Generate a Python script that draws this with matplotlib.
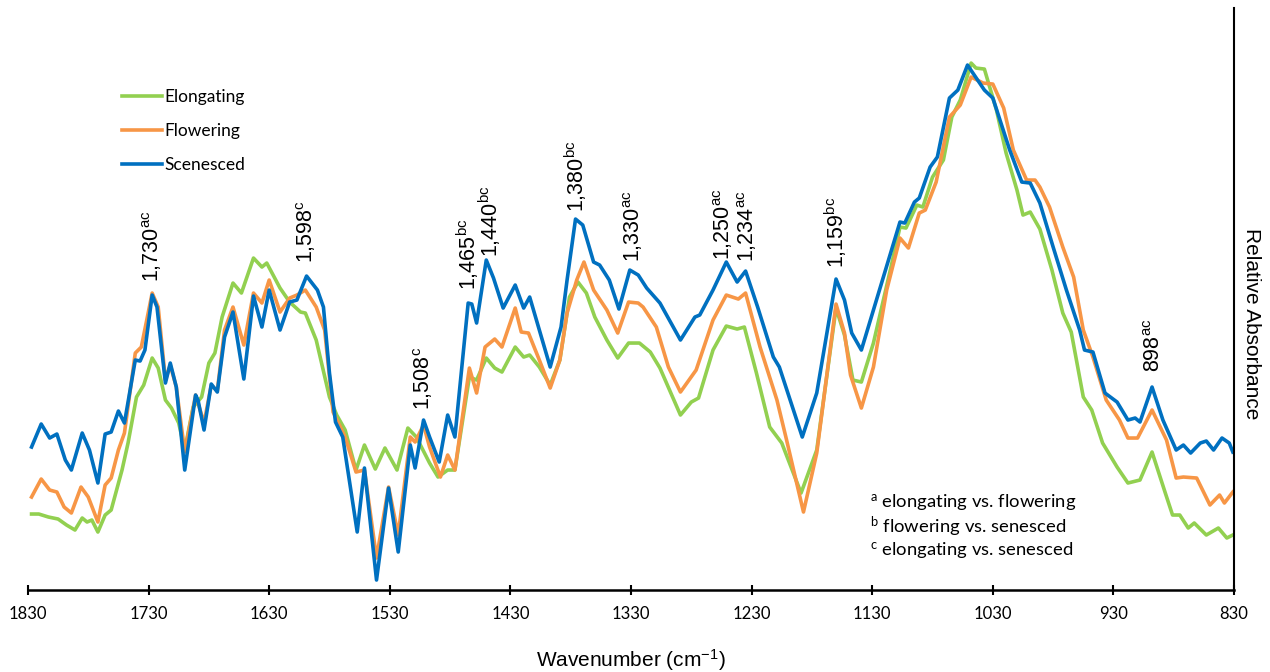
import numpy as np
import matplotlib
matplotlib.use("Agg")
import matplotlib.pyplot as plt

plt.rcParams['font.family'] = ['Lato', 'DejaVu Sans']
plt.rcParams['mathtext.default'] = 'regular'

# spectra (wavenumber in cm-1, relative absorbance)
wn_scen = [1827, 1819, 1812, 1806, 1799, 1794, 1785, 1779, 1772, 1766, 1761, 1755, 1750, 1741,
           1737, 1733, 1727, 1723, 1716, 1712, 1707, 1700, 1691, 1689, 1684, 1678, 1673, 1667,
           1660, 1651, 1643, 1636, 1630, 1621, 1613, 1607, 1599, 1590, 1585, 1580, 1575, 1569,
           1557, 1551, 1541, 1531, 1523, 1513, 1509, 1502, 1497, 1489, 1482, 1476, 1465, 1462,
           1458, 1450, 1444, 1436, 1426, 1419, 1414, 1406, 1397, 1388, 1383, 1376, 1370, 1361,
           1356, 1348, 1340, 1331, 1324, 1317, 1306, 1289, 1277, 1273, 1262, 1251, 1242, 1235,
           1225, 1212, 1207, 1188, 1176, 1160, 1153, 1147, 1139, 1129, 1107, 1103, 1095, 1091,
           1082, 1076, 1066, 1059, 1051, 1037, 1030, 1016, 1006, 999, 991, 980, 969, 958, 954,
           947, 937, 927, 918, 912, 908, 898, 889, 878, 872, 866, 858, 853, 847, 840, 834, 831]
ab_scen = [0.143, 0.166, 0.152, 0.156, 0.130, 0.120, 0.157, 0.140, 0.107, 0.156, 0.158, 0.179,
           0.167, 0.230, 0.229, 0.240, 0.295, 0.283, 0.207, 0.227, 0.203, 0.120, 0.195, 0.190,
           0.160, 0.206, 0.198, 0.253, 0.278, 0.211, 0.294, 0.263, 0.300, 0.260, 0.288, 0.290,
           0.314, 0.300, 0.283, 0.217, 0.168, 0.153, 0.058, 0.122, 0.010, 0.102, 0.038, 0.145,
           0.122, 0.170, 0.153, 0.128, 0.175, 0.153, 0.287, 0.286, 0.267, 0.330, 0.312, 0.282,
           0.305, 0.282, 0.293, 0.260, 0.223, 0.263, 0.310, 0.371, 0.365, 0.328, 0.325, 0.310,
           0.281, 0.320, 0.315, 0.302, 0.287, 0.250, 0.273, 0.275, 0.300, 0.328, 0.308, 0.319,
           0.283, 0.233, 0.223, 0.153, 0.197, 0.311, 0.290, 0.257, 0.240, 0.280, 0.368, 0.367,
           0.388, 0.392, 0.423, 0.433, 0.492, 0.500, 0.525, 0.500, 0.492, 0.440, 0.408, 0.407,
           0.387, 0.343, 0.300, 0.260, 0.240, 0.238, 0.197, 0.188, 0.170, 0.172, 0.168, 0.203,
           0.170, 0.140, 0.145, 0.137, 0.147, 0.149, 0.140, 0.152, 0.147, 0.138]

wn_flow = [1827, 1819, 1812, 1806, 1800, 1794, 1786, 1780, 1772, 1766, 1761, 1755, 1750, 1741,
           1736, 1727, 1722, 1716, 1712, 1707, 1700, 1691, 1684, 1678, 1673, 1667, 1660, 1651,
           1643, 1636, 1630, 1621, 1613, 1607, 1600, 1591, 1584, 1577, 1567, 1558, 1551, 1541,
           1531, 1523, 1513, 1509, 1502, 1497, 1488, 1482, 1476, 1464, 1458, 1451, 1443, 1437,
           1426, 1421, 1415, 1406, 1397, 1389, 1383, 1375, 1369, 1361, 1350, 1341, 1332, 1324,
           1320, 1309, 1299, 1289, 1276, 1262, 1251, 1241, 1235, 1223, 1209, 1201, 1187, 1176,
           1160, 1153, 1148, 1139, 1129, 1118, 1107, 1100, 1091, 1086, 1077, 1066, 1057, 1048,
           1038, 1030, 1021, 1013, 1002, 995, 991, 983, 972, 963, 955, 947, 936, 925, 918, 910,
           898, 886, 878, 872, 861, 850, 842, 838, 831]
ab_flow = [0.093, 0.111, 0.100, 0.098, 0.083, 0.077, 0.103, 0.093, 0.068, 0.105, 0.112, 0.140,
           0.157, 0.237, 0.243, 0.297, 0.283, 0.210, 0.225, 0.203, 0.138, 0.195, 0.167, 0.205,
           0.199, 0.260, 0.283, 0.245, 0.297, 0.287, 0.310, 0.278, 0.292, 0.295, 0.300, 0.283,
           0.260, 0.178, 0.153, 0.118, 0.120, 0.032, 0.103, 0.055, 0.153, 0.148, 0.165, 0.143,
           0.113, 0.135, 0.120, 0.222, 0.197, 0.243, 0.251, 0.243, 0.282, 0.258, 0.257, 0.230,
           0.202, 0.230, 0.277, 0.310, 0.328, 0.300, 0.280, 0.257, 0.288, 0.287, 0.283, 0.263,
           0.223, 0.198, 0.220, 0.270, 0.295, 0.291, 0.297, 0.243, 0.190, 0.150, 0.078, 0.137,
           0.286, 0.257, 0.215, 0.182, 0.223, 0.300, 0.352, 0.342, 0.377, 0.380, 0.408, 0.473,
           0.485, 0.513, 0.507, 0.506, 0.482, 0.440, 0.410, 0.410, 0.403, 0.383, 0.343, 0.313,
           0.260, 0.233, 0.190, 0.170, 0.152, 0.152, 0.180, 0.150, 0.112, 0.113, 0.112, 0.085,
           0.095, 0.087, 0.098]

wn_elong = [1827, 1821, 1813, 1805, 1798, 1791, 1785, 1781, 1777, 1772, 1766, 1761, 1752, 1747,
            1740, 1734, 1727, 1722, 1716, 1711, 1705, 1700, 1693, 1686, 1680, 1675, 1669, 1660,
            1653, 1643, 1636, 1632, 1621, 1613, 1604, 1600, 1591, 1580, 1574, 1567, 1558, 1551,
            1542, 1534, 1524, 1515, 1508, 1497, 1490, 1482, 1476, 1464, 1458, 1450, 1443, 1437,
            1426, 1419, 1414, 1406, 1397, 1389, 1381, 1374, 1367, 1360, 1350, 1341, 1332, 1323,
            1314, 1306, 1289, 1280, 1274, 1262, 1251, 1242, 1236, 1226, 1215, 1205, 1189, 1176,
            1160, 1153, 1146, 1139, 1129, 1115, 1107, 1102, 1093, 1088, 1080, 1071, 1064, 1057,
            1048, 1044, 1037, 1027, 1019, 1010, 1005, 999, 991, 981, 972, 965, 955, 948, 939,
            927, 918, 908, 898, 887, 881, 875, 868, 863, 853, 843, 836, 831]
ab_elong = [0.076, 0.076, 0.073, 0.071, 0.065, 0.060, 0.072, 0.068, 0.070, 0.058, 0.075, 0.080,
            0.120, 0.147, 0.193, 0.205, 0.232, 0.222, 0.190, 0.182, 0.167, 0.140, 0.183, 0.193,
            0.227, 0.237, 0.273, 0.307, 0.297, 0.332, 0.323, 0.327, 0.302, 0.288, 0.278, 0.277,
            0.250, 0.193, 0.175, 0.160, 0.120, 0.145, 0.121, 0.142, 0.120, 0.162, 0.153, 0.127,
            0.113, 0.120, 0.120, 0.213, 0.210, 0.232, 0.222, 0.218, 0.243, 0.233, 0.235, 0.223,
            0.205, 0.230, 0.293, 0.308, 0.297, 0.273, 0.250, 0.232, 0.247, 0.247, 0.238, 0.222,
            0.175, 0.188, 0.192, 0.240, 0.264, 0.261, 0.263, 0.217, 0.163, 0.147, 0.097, 0.140,
            0.282, 0.255, 0.210, 0.208, 0.247, 0.320, 0.363, 0.362, 0.385, 0.383, 0.413, 0.430,
            0.473, 0.490, 0.527, 0.522, 0.521, 0.480, 0.437, 0.400, 0.375, 0.378, 0.361, 0.320,
            0.277, 0.258, 0.193, 0.180, 0.147, 0.123, 0.107, 0.110, 0.138, 0.097, 0.075, 0.075,
            0.062, 0.067, 0.055, 0.062, 0.052, 0.055]

# peak labels: text, superscript, x, y of text start
peak_txt = ['1,730', '1,598', '1,508', '1,465', '1,440', '1,380', '1,330', '1,250', '1,234', '1,159', '898']
peak_sup = ['ac', 'c', 'c', 'bc', 'bc', 'bc', 'ac', 'ac', 'ac', 'bc', 'ac']
peak_x = [1727, 1599, 1502, 1465, 1447, 1376, 1328, 1254, 1234, 1160, 896]
peak_y = [0.308, 0.327, 0.180, 0.300, 0.333, 0.378, 0.328, 0.330, 0.328, 0.322, 0.218]

notes = [('a', 'elongating vs. flowering'), ('b', 'flowering vs. senesced'), ('c', 'elongating vs. senesced')]

fig = plt.figure(figsize=(12.7, 6.72), dpi=100)
ax = fig.add_axes([0.022, 0.122, 0.9497, 0.866])

ax.plot(wn_elong, ab_elong, color='#92D050', lw=2.6, label='Elongating', solid_joinstyle='round')
ax.plot(wn_flow, ab_flow, color='#F79646', lw=2.6, label='Flowering', solid_joinstyle='round')
ax.plot(wn_scen, ab_scen, color='#0070C0', lw=2.6, label='Scenesced', solid_joinstyle='round')

ax.set_xlim(1830, 830)
ax.set_ylim(0, 0.582)
ax.set_xticks(np.arange(1830, 829, -100))
ax.set_yticks([])
ax.tick_params(axis='x', direction='inout', length=7, width=1.5, pad=8, labelsize=12)
for s in ['left', 'top']:
    ax.spines[s].set_visible(False)
ax.spines['bottom'].set_linewidth(1.8)
ax.spines['right'].set_linewidth(1.5)

ax.set_xlabel('Wavenumber (cm$^{-1}$)', family='Liberation Sans', fontsize=15, labelpad=18)
fig.text(1252 / 1270, 1 - 324 / 672, 'Relative Absorbance', rotation=-90, ha='center', va='center',
         family='Liberation Sans', fontsize=15)

for t, s, x, y in zip(peak_txt, peak_sup, peak_x, peak_y):
    ax.text(x, y, t + '$^{' + s + '}$', rotation=90, rotation_mode='anchor', ha='left',
            va='center', family='Liberation Sans', fontsize=15.5)

ax.legend(loc='upper left', bbox_to_anchor=(0.096, 0.867), bbox_transform=fig.transFigure,
          frameon=False, fontsize=12.5, handlelength=2.3, handletextpad=0.15, labelspacing=1.03,
          borderpad=0, borderaxespad=0)

for i, (k, txt) in enumerate(notes):
    fig.text(870 / 1270, 1 - (503 + 24 * i) / 672, '$^{' + k + '}$ ' + txt, ha='left', va='center',
             fontsize=13.3)

fig.savefig('out.png', dpi=100)
